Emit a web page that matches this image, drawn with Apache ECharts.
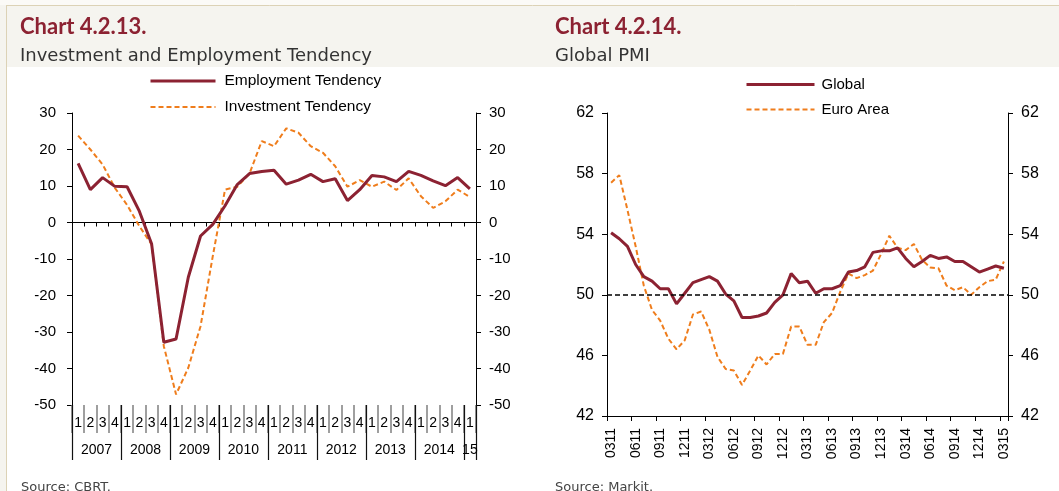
<!DOCTYPE html>
<html>
<head>
<meta charset="utf-8">
<script src="https://cdn.jsdelivr.net/npm/echarts@6/dist/echarts.min.js"></script>
<style>
  html, body { margin: 0; padding: 0; background: #fff; }
  #chart { width: 1059px; height: 491px; }
</style>
</head>
<body>
<div id="chart"></div>
<script>
// quarterly categories 2007Q1 .. 2015Q1
const quarters = [];
for (let y = 2007; y <= 2014; y++) for (let q = 1; q <= 4; q++) quarters.push(y + 'Q' + q);
quarters.push('2015Q1');
const yearLabels = ['2007', '2008', '2009', '2010', '2011', '2012', '2013', '2014', '15'];

const employment = [16.2, 9.0, 12.3, 9.9, 9.8, 3.1, -5.8, -32.8, -31.9, -15.0, -3.7, -0.5, 4.6, 10.4, 13.4, 14.0, 14.3,
  10.5, 11.6, 13.2, 11.2, 12.0, 6.0, 9.0, 12.9, 12.5, 11.2, 14.0, 12.9, 11.4, 10.1, 12.3, 9.2];
const investment = [23.8, 20.0, 15.9, 9.5, 4.8, -1.0, -6.0, -33.9, -47.1, -39.8, -28.4, -9.2, 9.0, 9.8, 13.4, 22.3, 20.9,
  25.8, 24.6, 20.9, 19.1, 15.4, 9.8, 11.6, 9.8, 11.2, 8.9, 12.1, 7.2, 4.0, 5.8, 9.0, 7.0];
const leftTicks = [-50, -40, -30, -20, -10, 0, 10, 20, 30];

// monthly categories 03/2011 .. 03/2015, shown as MMYY
const months = [];
for (let i = 0; i < 49; i++) {
  const m = (2 + i) % 12 + 1, y = 11 + Math.floor((2 + i) / 12);
  months.push(String(m).padStart(2, '0') + String(y));
}
const globalPmi = [54.1, 53.7, 53.2, 52.0, 51.2, 50.9, 50.4, 50.4, 49.4, 50.1, 50.8, 51.0, 51.2, 50.9, 50.05, 49.6, 48.5,
  48.5, 48.6, 48.8, 49.5, 50.0, 51.4, 50.8, 50.9, 50.1, 50.4, 50.4, 50.6, 51.5, 51.6, 51.85, 52.8, 52.9, 52.9, 53.1,
  52.4, 51.85, 52.2, 52.6, 52.4, 52.5, 52.2, 52.2, 51.85, 51.5, 51.7, 51.9, 51.75];
const euroPmi = [57.4, 57.9, 55.6, 53.2, 50.6, 49.0, 48.3, 47.1, 46.4, 47.0, 48.7, 48.9, 47.7, 45.9, 45.1, 45.0, 44.05,
  45.0, 46.0, 45.4, 46.1, 46.1, 47.9, 47.9, 46.7, 46.7, 48.2, 48.8, 50.2, 51.4, 51.1, 51.3, 51.6, 52.7, 53.9, 53.1,
  52.95, 53.35, 52.3, 51.8, 51.75, 50.6, 50.3, 50.5, 50.0, 50.5, 50.9, 51.0, 52.2];
const rightTicks = [42, 46, 50, 54, 58, 62];

const RED = '#8c2232';
const ORANGE = '#ef7d1c';
const FONT = 'Liberation Sans';
const solid = { color: RED, width: 3 };
const dashed = { color: ORANGE, width: 2, type: [5, 3] };

// year separators and year label centres follow from the quarter list
const yearStarts = [], yearMids = [];
yearLabels.forEach((_, k) => {
  const idx = quarters.findIndex(q => q.startsWith(String(2007 + k)));
  const cnt = quarters.filter(q => q.startsWith(String(2007 + k))).length;
  yearStarts.push(idx);
  yearMids.push(idx + cnt / 2);
});
yearStarts.push(quarters.length);

const chart = echarts.init(document.getElementById('chart'));

const valueAxis = (grid, pos, ticks, margin, size) => ({
  type: 'value', gridIndex: grid, position: pos,
  min: ticks[0], max: ticks[ticks.length - 1], interval: ticks[1] - ticks[0],
  axisLine: { show: true, lineStyle: { color: '#000', width: 1 } },
  axisTick: { show: true, length: 5, lineStyle: { color: '#000' } },
  axisLabel: { color: '#000', fontSize: size, fontFamily: FONT, margin: margin },
  splitLine: { show: false }
});

const option = {
  backgroundColor: '#fff',
  animation: false,
  graphic: [
    { type: 'rect', shape: { x: 0, y: 0, width: 1059, height: 67 }, style: { fill: '#f5f4ef' }, silent: true },
    { type: 'rect', shape: { x: 0, y: 0, width: 6, height: 491 }, style: { fill: '#f5f4ef' }, silent: true },
    { type: 'rect', shape: { x: 0, y: 0, width: 1059, height: 5 }, style: { fill: '#fbfaf7' }, silent: true },
    { type: 'line', shape: { x1: 6, y1: 5.5, x2: 1059, y2: 5.5 }, style: { stroke: '#dcd2b6', lineWidth: 1 }, silent: true },
    { type: 'line', shape: { x1: 6.5, y1: 5, x2: 6.5, y2: 491 }, style: { stroke: '#dcd2b6', lineWidth: 1 }, silent: true },
    { type: 'text', left: 21, top: 481, style: { text: 'Source: CBRT.', fill: '#444', font: '13px "DejaVu Sans"' } },
    { type: 'text', left: 555, top: 481, style: { text: 'Source: Markit.', fill: '#444', font: '13px "DejaVu Sans"' } }
  ],
  title: [
    { text: 'Chart 4.2.13.', left: 20, top: 16, padding: 0,
      textStyle: { color: RED, fontSize: 22, fontWeight: 'bold', fontFamily: 'Lato' } },
    { text: 'Investment and Employment Tendency', left: 20, top: 47, padding: 0,
      textStyle: { color: '#333', fontSize: 18, fontWeight: 'normal', fontFamily: 'DejaVu Sans' } },
    { text: 'Chart 4.2.14.', left: 555, top: 16, padding: 0,
      textStyle: { color: RED, fontSize: 22, fontWeight: 'bold', fontFamily: 'Lato' } },
    { text: 'Global PMI', left: 555, top: 47, padding: 0,
      textStyle: { color: '#333', fontSize: 18, fontWeight: 'normal', fontFamily: 'DejaVu Sans' } }
  ],
  legend: [
    { data: [{ name: 'Employment Tendency', lineStyle: solid }, { name: 'Investment Tendency', lineStyle: dashed }],
      orient: 'vertical', left: 149, top: 73, padding: 0,
      itemWidth: 65, itemHeight: 14, itemGap: 10, selectedMode: false, itemStyle: { opacity: 0 },
      textStyle: { color: '#000', fontSize: 15.5, fontFamily: FONT, padding: [0, 0, 0, 4] } },
    { data: [{ name: 'Global', lineStyle: solid }, { name: 'Euro Area', lineStyle: dashed }],
      orient: 'vertical', left: 745, top: 77, padding: 0,
      itemWidth: 68, itemHeight: 14, itemGap: 10, selectedMode: false, itemStyle: { opacity: 0 },
      textStyle: { color: '#000', fontSize: 15, fontFamily: FONT, padding: [0, 0, 0, 2] } }
  ],
  grid: [
    { left: 72, top: 113, width: 404, height: 292 },
    { left: 607, top: 113, width: 401, height: 303 }
  ],
  xAxis: [
    // line at zero with small ticks
    { type: 'category', gridIndex: 0, data: quarters, position: 'bottom', boundaryGap: true,
      axisLine: { show: true, onZero: true, lineStyle: { color: '#000', width: 1 } },
      axisTick: { show: true, interval: 0, length: 4, lineStyle: { color: '#000' } },
      axisLabel: { show: false }, splitLine: { show: false } },
    // quarter numbers at the bottom
    { type: 'category', gridIndex: 0, data: quarters, position: 'bottom', boundaryGap: true,
      axisLine: { show: false, onZero: false },
      axisTick: { show: true, interval: 0, length: 28, lineStyle: { color: '#808080', width: 1.5 } },
      axisLabel: { interval: 0, margin: 11, fontSize: 14, color: '#000', fontFamily: FONT,
        formatter: v => v.slice(-1) },
      splitLine: { show: false } },
    // years
    { type: 'value', gridIndex: 0, position: 'bottom', min: 0, max: quarters.length,
      axisLine: { show: false, onZero: false },
      axisTick: { show: true, length: 55, customValues: yearStarts, lineStyle: { color: '#111', width: 1.2 } },
      axisLabel: { customValues: yearMids, margin: 38, fontSize: 14, color: '#000', fontFamily: FONT,
        formatter: v => yearLabels[yearMids.indexOf(v)] },
      splitLine: { show: false } },
    // months
    { type: 'category', gridIndex: 1, data: months, position: 'bottom', boundaryGap: true,
      axisLine: { show: true, onZero: false, lineStyle: { color: '#000', width: 1 } },
      axisTick: { show: true, interval: 2, length: 5, lineStyle: { color: '#000' } },
      axisLabel: { interval: 2, rotate: 90, margin: 12, fontSize: 14, color: '#000', fontFamily: FONT },
      splitLine: { show: false } }
  ],
  yAxis: [
    valueAxis(0, 'left', leftTicks, 16, 15),
    valueAxis(0, 'right', leftTicks, 13, 15),
    valueAxis(1, 'left', rightTicks, 13, 16),
    valueAxis(1, 'right', rightTicks, 13, 16)
  ],
  series: [
    { name: 'Employment Tendency', type: 'line', xAxisIndex: 0, yAxisIndex: 0, data: employment,
      symbol: 'none', z: 3, lineStyle: solid, itemStyle: { color: RED } },
    { name: 'Investment Tendency', type: 'line', xAxisIndex: 0, yAxisIndex: 0, data: investment,
      symbol: 'none', z: 2, lineStyle: dashed, itemStyle: { color: ORANGE } },
    { name: 'Global', type: 'line', xAxisIndex: 3, yAxisIndex: 2, data: globalPmi,
      symbol: 'none', z: 3, lineStyle: solid, itemStyle: { color: RED },
      markLine: { silent: true, symbol: 'none', label: { show: false },
        lineStyle: { color: '#000', type: [5, 3], width: 1.5 }, data: [{ yAxis: 50 }] } },
    { name: 'Euro Area', type: 'line', xAxisIndex: 3, yAxisIndex: 2, data: euroPmi,
      symbol: 'none', z: 2, lineStyle: dashed, itemStyle: { color: ORANGE } }
  ]
};

chart.setOption(option);
</script>
</body>
</html>
